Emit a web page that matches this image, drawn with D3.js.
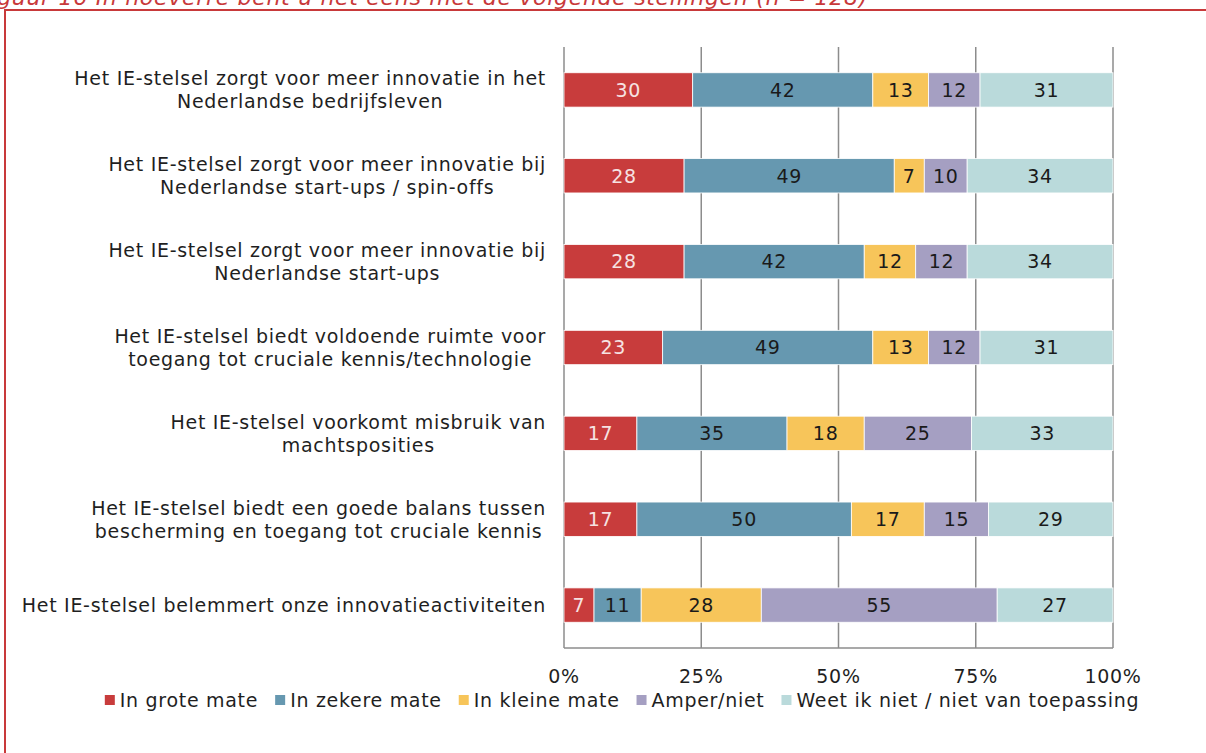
<!DOCTYPE html>
<html>
<head>
<meta charset="utf-8">
<script src="https://cdn.jsdelivr.net/npm/d3@7"></script>
<style>
  body { margin: 0; background: #fff; }
  text { font-family: "DejaVu Sans", sans-serif; fill: #1f1f1f; letter-spacing: 0.7px; }
</style>
</head>
<body>
<svg id="chart" width="1206" height="753"></svg>
<script>
// data (counts, n = 128)
var statements = [
    ["Het IE-stelsel zorgt voor meer innovatie in het", "Nederlandse bedrijfsleven"],
    ["Het IE-stelsel zorgt voor meer innovatie bij", "Nederlandse start-ups / spin-offs"],
    ["Het IE-stelsel zorgt voor meer innovatie bij", "Nederlandse start-ups"],
    ["Het IE-stelsel biedt voldoende ruimte voor", "toegang tot cruciale kennis/technologie"],
    ["Het IE-stelsel voorkomt misbruik van", "machtsposities"],
    ["Het IE-stelsel biedt een goede balans tussen", "bescherming en toegang tot cruciale kennis"],
    ["Het IE-stelsel belemmert onze innovatieactiviteiten"]
];
var seriesNames = ["In grote mate", "In zekere mate", "In kleine mate", "Amper/niet", "Weet ik niet / niet van toepassing"];
var groteMate   = [30, 28, 28, 23, 17, 17, 7];
var zekereMate  = [42, 49, 42, 49, 35, 50, 11];
var kleineMate  = [13, 7, 12, 13, 18, 17, 28];
var amperNiet   = [12, 10, 12, 12, 25, 15, 55];
var weetNiet    = [31, 34, 34, 31, 33, 29, 27];
var colors = ["#c83c3c", "#6698b0", "#f7c55a", "#a59fc2", "#badadb"];
var ticks = [0, 0.25, 0.5, 0.75, 1];
var tickLabels = ["0%", "25%", "50%", "75%", "100%"];
var title = "Figuur 16 In hoeverre bent u het eens met de volgende stellingen (n = 128)";

var svg = d3.select("#chart");
var fontSize = 19;

// frame + title (partly cut at top like the original)
svg.append("text")
    .attr("x", 868).attr("y", 5)
    .attr("text-anchor", "end")
    .style("font-style", "italic")
    .style("font-size", "22px")
    .style("fill", "#c8393a")
    .text(title);
svg.append("path")
    .attr("d", "M5,753 L5,10 L1206,10")
    .attr("fill", "none")
    .attr("stroke", "#c8393a")
    .attr("stroke-width", 2);

var rows = statements.map(function (s, i) {
    var vals = [groteMate[i], zekereMate[i], kleineMate[i], amperNiet[i], weetNiet[i]];
    var total = d3.sum(vals);
    var r = { key: i, label: s, total: total };
    seriesNames.forEach(function (n, j) { r[n] = vals[j] / total; r["v" + j] = vals[j]; });
    return r;
});

var x = d3.scaleLinear().domain([0, 1]).range([564, 1113]);
var y = d3.scaleBand().domain(d3.range(rows.length)).range([47, 648])
    .paddingInner(0.6).paddingOuter(0.3);

// grid
svg.append("g").selectAll("line")
    .data(ticks).enter().append("line")
    .attr("x1", function (d) { return x(d); })
    .attr("x2", function (d) { return x(d); })
    .attr("y1", 47).attr("y2", 648)
    .attr("stroke", "#8c8c8c").attr("stroke-width", 1.5);
svg.append("line")
    .attr("x1", x(0)).attr("x2", x(1))
    .attr("y1", 648).attr("y2", 648)
    .attr("stroke", "#8c8c8c").attr("stroke-width", 1.5);

svg.append("g").selectAll("text")
    .data(ticks).enter().append("text")
    .attr("x", function (d) { return x(d); })
    .attr("y", 683)
    .attr("text-anchor", "middle")
    .style("font-size", fontSize + "px")
    .text(function (d, i) { return tickLabels[i]; });

// stacked bars
var stack = d3.stack().keys(seriesNames)(rows);

var layers = svg.append("g").selectAll("g")
    .data(stack).enter().append("g")
    .attr("fill", function (d, i) { return colors[i]; });

layers.selectAll("rect")
    .data(function (d) { return d; })
    .enter().append("rect")
    .attr("x", function (d) { return x(d[0]); })
    .attr("width", function (d) { return x(d[1]) - x(d[0]); })
    .attr("y", function (d) { return y(d.data.key); })
    .attr("height", y.bandwidth())
    .attr("stroke", "#fff").attr("stroke-width", 0.8);

layers.each(function (layer, j) {
    d3.select(this).selectAll("text")
        .data(layer).enter().append("text")
        .attr("x", function (d) { return (x(d[0]) + x(d[1])) / 2; })
        .attr("y", function (d) { return y(d.data.key) + y.bandwidth() / 2; })
        .attr("dy", "0.36em")
        .attr("text-anchor", "middle")
        .style("font-size", fontSize + "px")
        .style("fill", j === 0 ? "#f6e2e2" : "#1a1a1a")
        .text(function (d) { return d.data["v" + j]; });
});

// category labels: lines centred on each other, block right aligned
var labelRight = 546;
rows.forEach(function (r) {
    var g = svg.append("g");
    var cy = y(r.key) + y.bandwidth() / 2;
    var n = r.label.length;
    var lines = g.selectAll("text").data(r.label).enter().append("text")
        .attr("y", function (d, k) { return cy + (k - (n - 1) / 2) * 23; })
        .attr("dy", "0.36em")
        .attr("text-anchor", "middle")
        .style("font-size", fontSize + "px")
        .text(function (d) { return d; });
    var maxW = 0;
    lines.each(function () { maxW = Math.max(maxW, this.getComputedTextLength()); });
    lines.attr("x", labelRight - maxW / 2);
});

// legend
var legend = svg.append("g");
var lx = 0;
seriesNames.forEach(function (n, i) {
    var item = legend.append("g").attr("transform", "translate(" + lx + ",0)");
    item.append("rect").attr("x", 0).attr("y", -5).attr("width", 10).attr("height", 10)
        .attr("fill", colors[i]);
    var t = item.append("text").attr("x", 15).attr("dy", "0.36em")
        .style("font-size", fontSize + "px").text(n);
    lx += 15 + t.node().getComputedTextLength() + 17;
});
legend.attr("transform", "translate(" + (622 - (lx - 17) / 2) + ",700)");
</script>
</body>
</html>
